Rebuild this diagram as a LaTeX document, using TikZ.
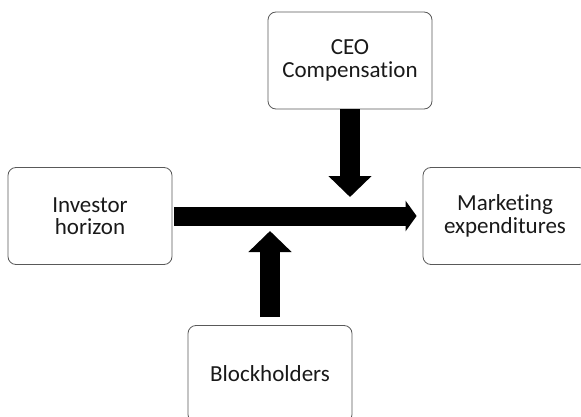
\documentclass[tikz,border=0pt]{standalone}
\usepackage{fontspec}
\setmainfont{Carlito}[Ligatures=CommonOff]
\usetikzlibrary{arrows.meta}
\begin{document}
\begin{tikzpicture}[x=1pt,y=-1pt,
    box/.style={draw=black!65, line width=0.8pt, rounded corners=8pt,
        minimum width=164pt, minimum height=97pt, inner sep=0pt,
        align=center, text=black!90, font=\fontsize{23}{22.5}\selectfont},
    bigarrow/.style={line width=20pt, -{Triangle[width=42pt,length=21pt]}},
    mainarrow/.style={line width=19pt, -{Triangle[width=30pt,length=11pt]}}]
    \useasboundingbox (0,0) rectangle (581,417);

    \node (ceo) at (350,60.5) [box] {CEO\\Compensation};
    \node (inv) at (90,216) [box] {Investor\\horizon};
    \node (mkt) at (505,216) [box] {Marketing\\expenditures};
    \node (blk) at (270,374) [box] {Blockholders};

    \coordinate (hit) at (350,197);
    \coordinate (lift) at (270,231);

    \draw[mainarrow, shorten <=2pt, shorten >=6pt] (inv) -- (mkt);
    \draw[bigarrow] (ceo) -- (hit);
    \draw[bigarrow, shorten <=8pt] (blk) -- (lift);
\end{tikzpicture}
\end{document}
